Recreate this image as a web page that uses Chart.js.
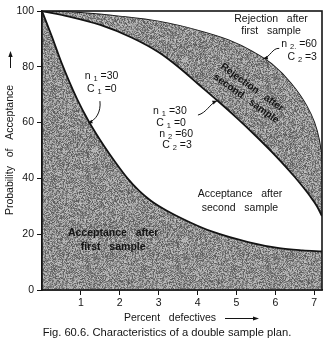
<!DOCTYPE html>
<html>
<head>
<meta charset="utf-8">
<script src="https://cdn.jsdelivr.net/npm/chart.js@4.4.1/dist/chart.umd.min.js"></script>
<style>
  html, body { margin: 0; padding: 0; background: #fff; }
  #wrap { width: 331px; height: 341px; position: relative; }
</style>
</head>
<body>
<div id="wrap"><canvas id="ocChart"></canvas></div>
<script>
// percent defectives (x) and probability of acceptance (y)
const accFirstX = [0, 0.25, 0.5, 0.9, 1.2, 1.6, 1.9, 2.2, 2.5, 2.8, 3.2, 3.8, 4.4, 5.3, 6.1, 6.7, 7.2];
const accFirstY = [100, 91, 81.5, 68.5, 60.5, 51.5, 45.5, 40, 35.5, 32, 28.5, 24.3, 20.8, 17.2, 15, 14.2, 13.8];

const rejSecondX = [0, 0.7, 1.5, 2.3, 3.0, 3.5, 4.0, 4.5, 5.0, 5.5, 6.0, 6.5, 6.9, 7.07, 7.2];
const rejSecondY = [100, 98, 95, 90.5, 85.2, 80, 74, 68, 61.8, 55.2, 48.2, 40.5, 33.5, 30, 26.5];

const rejFirstX = [0, 1, 2, 3, 4, 4.8, 5.4, 5.9, 6.4, 6.8, 7.0, 7.12, 7.2];
const rejFirstY = [100, 99.3, 98, 96.2, 93, 89.5, 85.5, 81, 74, 66, 60, 54, 47];

const xTickValues = [1, 2, 3, 4, 5, 6, 7];
const yTickStep = 20;
const xMax = 7.2;

const FONT = '"Liberation Sans", Arial, Helvetica, sans-serif';
const ink = '#141414';

const toPoints = (xs, ys) => xs.map((x, i) => ({ x: x, y: ys[i] }));

// speckled grey fill like the printed halftone
function makeGrain(ctx) {
    const size = 90;
    const c = document.createElement('canvas');
    c.width = size; c.height = size;
    const g = c.getContext('2d');
    const img = g.createImageData(size, size);
    for (let i = 0; i < size * size; i++) {
        let s = Math.sin(i * 12.9898 + 78.233) * 43758.5453;
        s = s - Math.floor(s);
        const v = Math.round(86 + s * 110);
        img.data[i * 4] = v; img.data[i * 4 + 1] = v; img.data[i * 4 + 2] = v; img.data[i * 4 + 3] = 255;
    }
    g.putImageData(img, 0, 0);
    return ctx.createPattern(c, 'repeat');
}

function subLabel(ctx, x, y, parts, align) {
    const big = '10.5px ' + FONT, small = '7.5px ' + FONT;
    let w = 0;
    parts.forEach(p => { ctx.font = p[1] ? small : big; w += ctx.measureText(p[0]).width; });
    let cx = align === 'right' ? x - w : (align === 'left' ? x : x - w / 2);
    ctx.textAlign = 'left'; ctx.textBaseline = 'middle';
    parts.forEach(p => {
        ctx.font = p[1] ? small : big;
        ctx.fillText(p[0], cx, y + (p[1] ? 3 : 0));
        cx += ctx.measureText(p[0]).width;
    });
}

function curlyArrow(ctx, a, b, c, d) {
    ctx.beginPath();
    ctx.moveTo(a[0], a[1]);
    ctx.bezierCurveTo(b[0], b[1], c[0], c[1], d[0], d[1]);
    ctx.lineWidth = 1; ctx.stroke();
    const ang = Math.atan2(d[1] - c[1], d[0] - c[0]);
    ctx.beginPath();
    ctx.moveTo(d[0], d[1]);
    ctx.lineTo(d[0] - 5 * Math.cos(ang - 0.4), d[1] - 5 * Math.sin(ang - 0.4));
    ctx.lineTo(d[0] - 5 * Math.cos(ang + 0.4), d[1] - 5 * Math.sin(ang + 0.4));
    ctx.closePath(); ctx.fill();
}

function centered(ctx, text, x, y, font) {
    ctx.font = font; ctx.textAlign = 'center'; ctx.textBaseline = 'middle';
    ctx.fillText(text, x, y);
}

const notesPlugin = {
    id: 'notes',
    afterDraw(chart) {
        const ctx = chart.ctx;
        const ca = chart.chartArea;
        const P = (x, y) => [chart.scales.x.getPixelForValue(x), chart.scales.y.getPixelForValue(y)];
        ctx.save();
        ctx.fillStyle = ink; ctx.strokeStyle = ink;

        // frame round the plot
        ctx.lineWidth = 1.6;
        ctx.strokeRect(ca.left, ca.top, ca.right - ca.left, ca.bottom - ca.top);

        // left curve label
        let p = P(1.53, 76.7);
        subLabel(ctx, p[0], p[1], [['n ', 0], ['1', 1], [' =30', 0]], 'center');
        p = P(1.54, 71.9);
        subLabel(ctx, p[0], p[1], [['C ', 0], ['1', 1], [' =0', 0]], 'center');
        curlyArrow(ctx, P(1.49, 67.7), P(1.52, 63.8), P(1.39, 60.9), P(1.18, 59.8));

        // middle label
        p = P(3.29, 64.2);
        subLabel(ctx, p[0], p[1], [['n ', 0], ['1', 1], [' =30', 0]], 'center');
        p = P(3.32, 59.9);
        subLabel(ctx, p[0], p[1], [['C ', 0], ['1', 1], [' =0', 0]], 'center');
        p = P(3.45, 55.9);
        subLabel(ctx, p[0], p[1], [['n ', 0], ['2', 1], [' =60', 0]], 'center');
        p = P(3.47, 52.0);
        subLabel(ctx, p[0], p[1], [['C ', 0], ['2', 1], [' =3', 0]], 'center');
        curlyArrow(ctx, P(4.01, 62.7), P(4.24, 63.6), P(4.3, 66.6), P(4.5, 67.8));

        // top right
        p = P(5.89, 97.1);
        centered(ctx, 'Rejection   after', p[0], p[1], '10.5px ' + FONT);
        p = P(5.89, 92.8);
        centered(ctx, 'first   sample', p[0], p[1], '10.5px ' + FONT);
        p = P(7.07, 88.2);
        subLabel(ctx, p[0], p[1], [['n ', 0], ['2.', 1], [' =60', 0]], 'right');
        p = P(7.07, 83.5);
        subLabel(ctx, p[0], p[1], [['C ', 0], ['2', 1], [' =3', 0]], 'right');
        curlyArrow(ctx, P(6.1, 86.6), P(5.92, 86.8), P(5.88, 83.6), P(5.69, 82.9));

        // band text, rotated
        const ang = 35.6 * Math.PI / 180;
        [['Rejection   after', 5.40, 72.6], ['second   sample', 5.25, 68.6]].forEach(t => {
            const q = P(t[1], t[2]);
            ctx.save();
            ctx.translate(q[0], q[1]); ctx.rotate(ang);
            centered(ctx, t[0], 0, 0, 'bold 10px ' + FONT);
            ctx.restore();
        });

        p = P(5.09, 34.4);
        centered(ctx, 'Acceptance   after', p[0], p[1], '10.5px ' + FONT);
        p = P(5.09, 29.4);
        centered(ctx, 'second   sample', p[0], p[1], '10.5px ' + FONT);

        p = P(1.83, 20.4);
        centered(ctx, 'Acceptance   after', p[0], p[1], 'bold 10.5px ' + FONT);
        p = P(1.83, 15.4);
        centered(ctx, 'first   sample', p[0], p[1], 'bold 10.5px ' + FONT);

        // y axis title
        ctx.save();
        ctx.translate(10, 150);
        ctx.rotate(-Math.PI / 2);
        centered(ctx, 'Probability   of   Acceptance', 0, 0, '10.5px ' + FONT);
        ctx.restore();
        ctx.lineWidth = 1;
        ctx.beginPath(); ctx.moveTo(10.5, 68); ctx.lineTo(10.5, 55); ctx.stroke();
        ctx.beginPath(); ctx.moveTo(10.5, 51); ctx.lineTo(8.3, 57); ctx.lineTo(12.7, 57); ctx.closePath(); ctx.fill();

        // x axis title
        centered(ctx, 'Percent   defectives', 170, 318, '10.5px ' + FONT);
        ctx.beginPath(); ctx.moveTo(225, 318.5); ctx.lineTo(255, 318.5); ctx.stroke();
        ctx.beginPath(); ctx.moveTo(259, 318.5); ctx.lineTo(253, 316.5); ctx.lineTo(253, 320.5); ctx.closePath(); ctx.fill();

        // caption
        centered(ctx, 'Fig. 60.6. Characteristics of a double sample plan.', 167, 333, '11.2px ' + FONT);
        ctx.restore();
    }
};

const canvas = document.getElementById('ocChart');
const grain = makeGrain(canvas.getContext('2d'));

const lineStyle = {
    borderColor: ink, borderWidth: 1.8, pointRadius: 0,
    cubicInterpolationMode: 'monotone'
};

new Chart(canvas, {
    type: 'line',
    data: {
        datasets: [
            Object.assign({ label: 'Acceptance after first sample', data: toPoints(accFirstX, accFirstY), fill: 'origin', backgroundColor: grain }, lineStyle),
            Object.assign({ label: 'Rejection after second sample', data: toPoints(rejSecondX, rejSecondY), fill: '+1', backgroundColor: grain }, lineStyle),
            Object.assign({ label: 'Rejection after first sample', data: toPoints(rejFirstX, rejFirstY), fill: false }, lineStyle)
        ]
    },
    options: {
        responsive: true, maintainAspectRatio: false, animation: false,
        layout: { padding: { top: 11, right: 9, left: 0, bottom: 0 } },
        plugins: { legend: { display: false }, tooltip: { enabled: false } },
        scales: {
            x: {
                type: 'linear', min: 0, max: xMax,
                afterBuildTicks: axis => { axis.ticks = xTickValues.map(v => ({ value: v })); },
                afterFit: axis => { axis.height = 51; },
                grid: { drawOnChartArea: false, drawTicks: true, tickLength: 5, color: ink, lineWidth: 1 },
                border: { display: true, color: ink, width: 1.6 },
                ticks: { color: ink, font: { family: FONT, size: 10.5 }, padding: 2, maxRotation: 0 }
            },
            y: {
                min: 0, max: 100,
                afterFit: axis => { axis.width = 42; },
                grid: { drawOnChartArea: false, drawTicks: true, tickLength: 5, color: ink, lineWidth: 1 },
                border: { display: true, color: ink, width: 1.6 },
                ticks: { stepSize: yTickStep, color: ink, font: { family: FONT, size: 10.5 }, padding: 3 }
            }
        }
    },
    plugins: [notesPlugin]
});
</script>
</body>
</html>
